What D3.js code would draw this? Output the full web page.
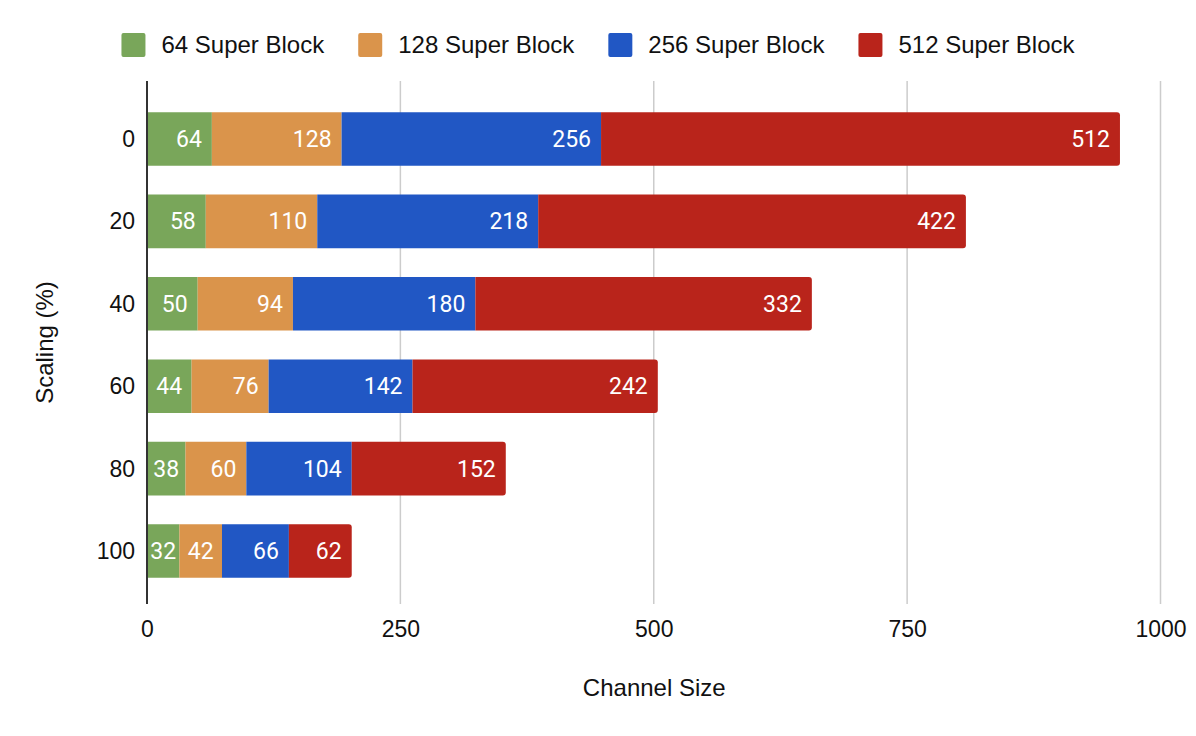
<!DOCTYPE html>
<html>
<head>
<meta charset="utf-8">
<script src="https://cdn.jsdelivr.net/npm/d3@7"></script>
<style>
  html, body { margin: 0; padding: 0; background: #fff; }
  svg { display: block; }
</style>
</head>
<body>
<svg id="chart" width="1196" height="736"></svg>
<script>
// ---- Data ----
const categories = ["0", "20", "40", "60", "80", "100"];
const seriesNames = ["64 Super Block", "128 Super Block", "256 Super Block", "512 Super Block"];
const seriesKeys = ["s64", "s128", "s256", "s512"];
const values64  = [64, 58, 50, 44, 38, 32];
const values128 = [128, 110, 94, 76, 60, 42];
const values256 = [256, 218, 180, 142, 104, 66];
const values512 = [512, 422, 332, 242, 152, 62];
const xTicks = [0, 250, 500, 750, 1000];
const colors = ["#79a65a", "#da944b", "#2157c4", "#b9241b"];
const xTitle = "Channel Size";
const yTitle = "Scaling (%)";

const rows = categories.map((c, i) => ({
  cat: c, s64: values64[i], s128: values128[i], s256: values256[i], s512: values512[i]
}));

const svg = d3.select("#chart");
const plotTop = 81, plotBottom = 604;

const x = d3.scaleLinear().domain([0, 1000]).range([147, 1160.5]);
const y = d3.scaleBand().domain(categories).range([97.8, 592.2]).paddingInner(0.35).paddingOuter(0.175);
const color = d3.scaleOrdinal().domain(seriesKeys).range(colors);

const axisFont = "'Liberation Sans', Arial, sans-serif";
const labelFont = "Roboto, 'Liberation Sans', sans-serif";
const textColor = "#111111";

// Gridlines
svg.append("g").selectAll("line")
  .data(xTicks.filter(t => t > 0))
  .join("line")
  .attr("x1", d => x(d)).attr("x2", d => x(d))
  .attr("y1", plotTop).attr("y2", plotBottom)
  .attr("stroke", "#cccccc").attr("stroke-width", 1.5);

// Stacked bars
const stack = d3.stack().keys(seriesKeys);
const stacked = stack(rows);

function roundedRight(x0, y0, w, h, r) {
  r = Math.min(r, w, h / 2);
  return `M${x0},${y0}H${x0 + w - r}Q${x0 + w},${y0} ${x0 + w},${y0 + r}` +
         `V${y0 + h - r}Q${x0 + w},${y0 + h} ${x0 + w - r},${y0 + h}H${x0}Z`;
}

const layers = svg.append("g").selectAll("g")
  .data(stacked)
  .join("g")
  .attr("fill", d => color(d.key));

layers.each(function(layer, li) {
  const g = d3.select(this);
  const last = li === stacked.length - 1;
  g.selectAll("path")
    .data(layer)
    .join("path")
    .attr("d", d => {
      const x0 = x(d[0]), x1 = x(d[1]);
      const yy = y(d.data.cat), h = y.bandwidth();
      if (last) return roundedRight(x0, yy, x1 - x0, h, 3);
      return `M${x0},${yy}H${x1}V${yy + h}H${x0}Z`;
    });
});

// Bar value labels
const labelG = svg.append("g");
stacked.forEach(layer => {
  layer.forEach(d => {
    const x0 = x(d[0]), x1 = x(d[1]);
    const v = d[1] - d[0];
    const t = labelG.append("text")
      .attr("y", y(d.data.cat) + y.bandwidth() / 2)
      .attr("dy", "0.35em")
      .attr("fill", "#ffffff")
      .attr("font-family", labelFont)
      .attr("font-size", 23)
      .text(v);
    const tw = t.node().getComputedTextLength();
    if (x1 - x0 < tw + 20) {
      t.attr("x", (x0 + x1) / 2).attr("text-anchor", "middle");
    } else {
      t.attr("x", x1 - 10).attr("text-anchor", "end");
    }
  });
});

// Y axis line
svg.append("line")
  .attr("x1", x(0)).attr("x2", x(0))
  .attr("y1", plotTop).attr("y2", plotBottom)
  .attr("stroke", "#333333").attr("stroke-width", 2);

// X axis tick labels
const xAxis = d3.axisBottom(x).tickValues(xTicks).tickFormat(d3.format("d")).tickSize(0).tickPadding(0);
const xg = svg.append("g").attr("transform", `translate(0,${plotBottom})`).call(xAxis);
xg.select(".domain").remove();
xg.selectAll("text")
  .attr("y", 33).attr("dy", 0)
  .attr("font-family", axisFont).attr("font-size", 23).attr("fill", textColor);

// Y axis tick labels
const yAxis = d3.axisLeft(y).tickSize(0).tickPadding(0);
const yg = svg.append("g").attr("transform", `translate(135,0)`).call(yAxis);
yg.select(".domain").remove();
yg.selectAll("text")
  .attr("x", 0).attr("dy", "0.35em")
  .attr("font-family", axisFont).attr("font-size", 23).attr("fill", textColor);

// Axis titles
svg.append("text")
  .attr("x", (x(0) + x(1000)) / 2 + 0.5).attr("y", 696)
  .attr("text-anchor", "middle")
  .attr("font-family", axisFont).attr("font-size", 24).attr("fill", textColor)
  .text(xTitle);

svg.append("text")
  .attr("transform", `translate(53,${(plotTop + plotBottom) / 2}) rotate(-90)`)
  .attr("text-anchor", "middle")
  .attr("font-family", axisFont).attr("font-size", 24).attr("fill", textColor)
  .text(yTitle);

// Legend
const legend = svg.append("g");
const items = seriesKeys.map((k, i) => ({ key: k, name: seriesNames[i] }));
let cursor = 0;
items.forEach(it => {
  const g = legend.append("g");
  g.append("rect").attr("x", 0).attr("y", 33).attr("width", 24).attr("height", 24)
    .attr("rx", 2).attr("fill", color(it.key));
  const t = g.append("text").attr("x", 40).attr("y", 53)
    .attr("font-family", axisFont).attr("font-size", 24).attr("fill", textColor)
    .text(it.name);
  const w = 40 + t.node().getComputedTextLength();
  g.attr("transform", `translate(${cursor},0)`);
  cursor += w + 34;
});
const totalW = cursor - 34;
legend.attr("transform", `translate(${598 - totalW / 2},0)`);
</script>
</body>
</html>
